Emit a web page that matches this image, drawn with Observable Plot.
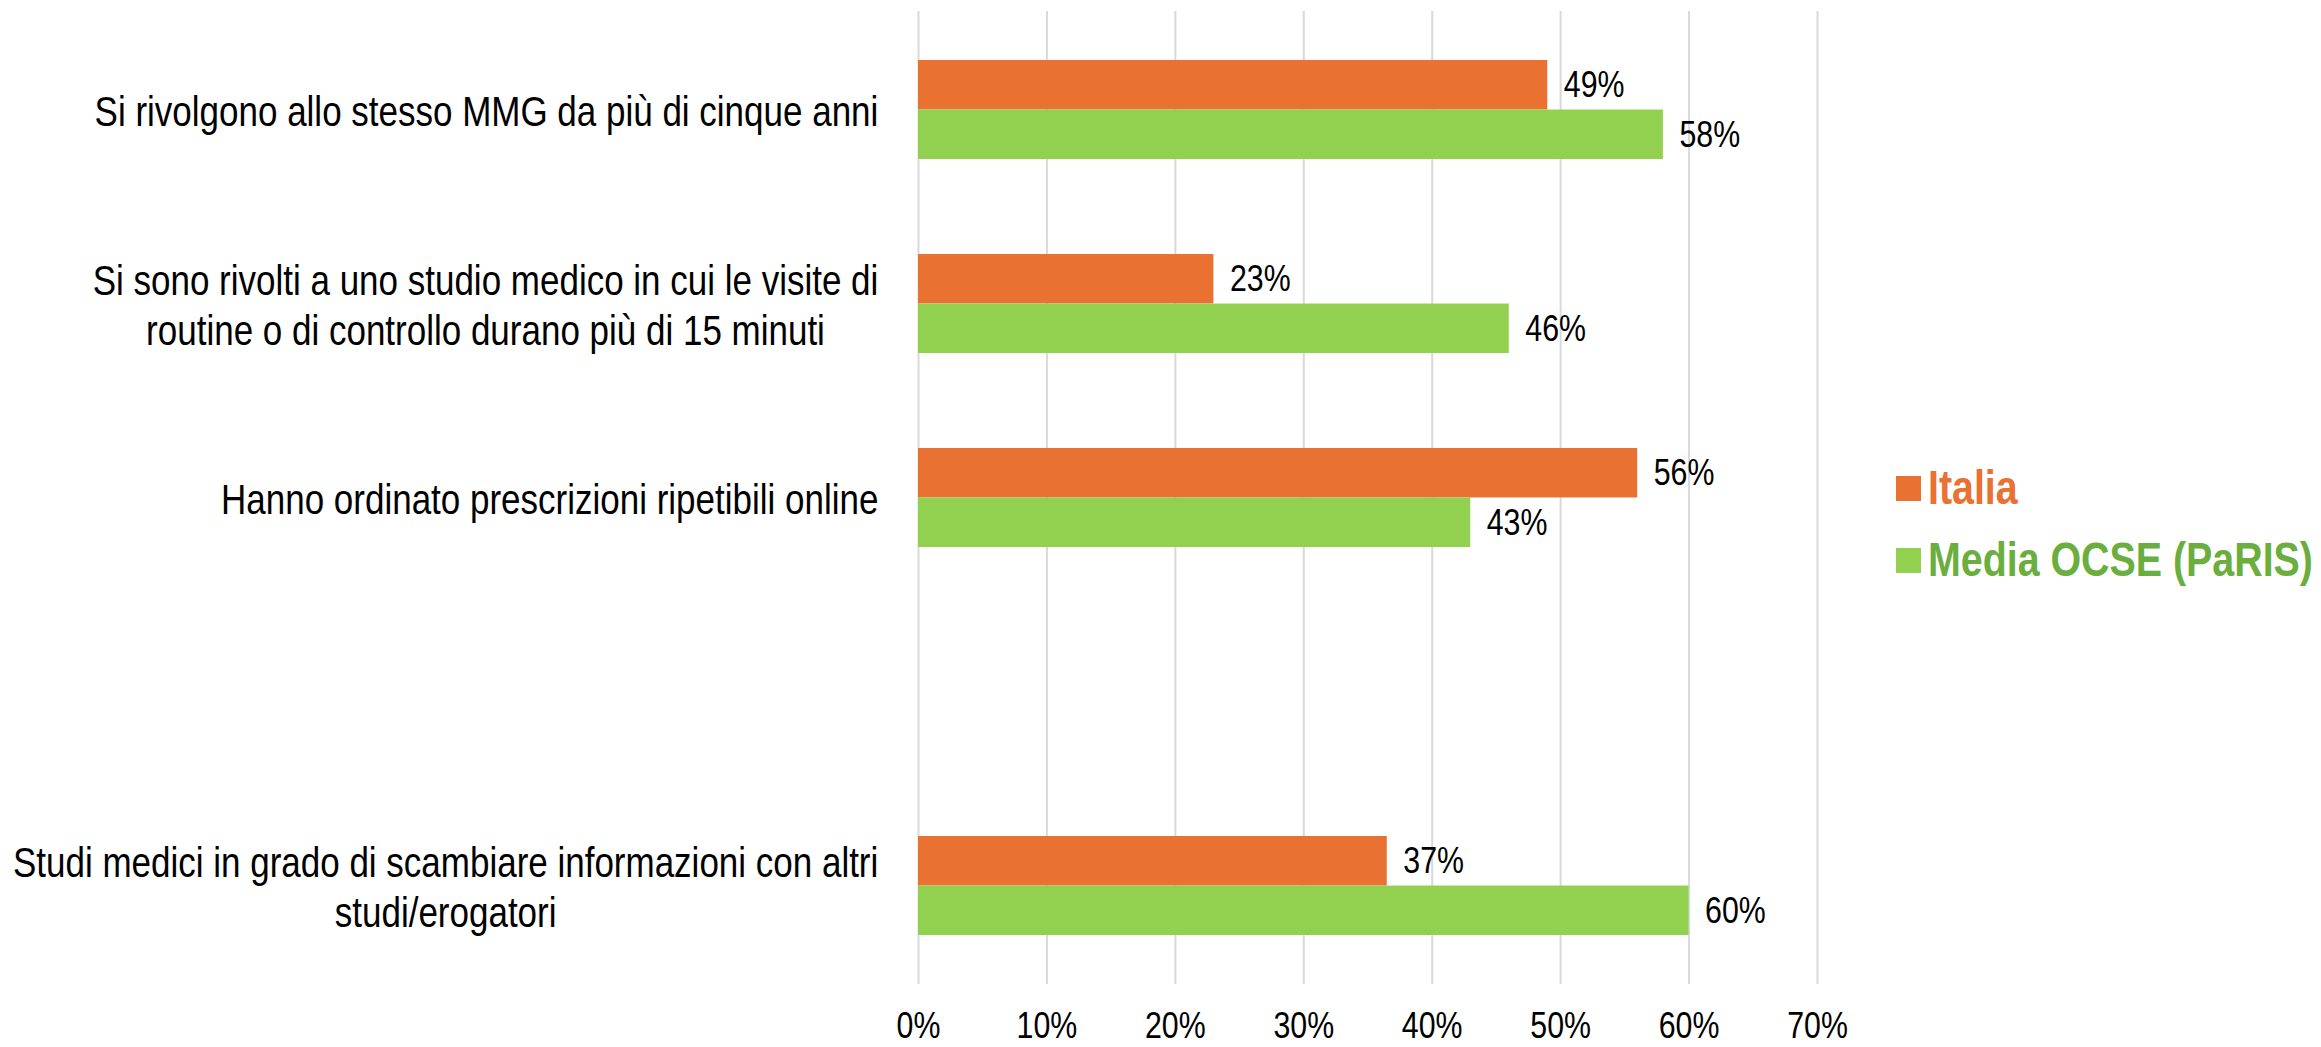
<!DOCTYPE html>
<html>
<head>
<meta charset="utf-8">
<script src="https://cdn.jsdelivr.net/npm/d3@7"></script>
<script src="https://cdn.jsdelivr.net/npm/@observablehq/plot@0.6"></script>
<style>
  body { margin: 0; background: #fff; }
  #wrap { position: relative; width: 2321px; height: 1047px; }
  #legend { position: absolute; left: 1896px; top: 452px; font-family: 'Liberation Sans', Arial, sans-serif; font-weight: bold; font-size: 48px; line-height: 1; }
  .item { display: flex; align-items: center; height: 72px; white-space: nowrap; }
  .sw { width: 25px; height: 25px; margin-right: 7px; flex: none; }
  .lt { display: inline-block; transform: scaleX(0.82); transform-origin: left center; }
</style>
</head>
<body>
<div id="wrap"><div id="chart"></div><div id="legend"></div></div>
<script>
// ---- data ----
const categories = [
  "Si rivolgono allo stesso MMG da più di cinque anni",
  "Si sono rivolti a uno studio medico in cui le visite di\nroutine o di controllo durano più di 15 minuti",
  "Hanno ordinato prescrizioni ripetibili online",
  "Studi medici in grado di scambiare informazioni con altri\nstudi/erogatori"
];
const slots = [categories[0], categories[1], categories[2], "", categories[3]];
const italia = [0.49, 0.23, 0.56, 0.365];
const ocse = [0.58, 0.46, 0.43, 0.60];
const seriesNames = ["Italia", "Media OCSE (PaRIS)"];
const seriesColors = ["#E97132", "#92D050"];
const legendTextColors = ["#E97132", "#6AAE3E"];
const xTicks = [0, 0.1, 0.2, 0.3, 0.4, 0.5, 0.6, 0.7];

// ---- layout ----
const W = 2321, H = 1047;
const mTop = 11, mBottom = 63, mLeft = 918, mRight = 504;
const pInner = 0.491, pOuter = 0.2455;
const FONT = "'Liberation Sans', Arial, sans-serif";
const SX = 0.82; // narrow (condensed) look
const catFont = 43, catSX = 0.814, valFont = 37;

const band = d3.scaleBand().domain(slots).range([mTop, H - mBottom]).paddingInner(pInner).paddingOuter(pOuter);
const half = band.bandwidth() / 2;

const rowsIt = categories.map((c, i) => ({cat: c, series: seriesNames[0], value: italia[i]}));
const rowsOc = categories.map((c, i) => ({cat: c, series: seriesNames[1], value: ocse[i]}));

// measure label widths
const ctx = document.createElement("canvas").getContext("2d");
ctx.font = `${catFont}px ${FONT}`;
const labelMarks = categories.map(c => {
  const maxW = d3.max(c.split("\n"), l => ctx.measureText(l).width) * catSX;
  return Plot.text([c], {
    y: d => d, text: d => d, frameAnchor: "left", textAnchor: "middle",
    dx: -(40 + maxW / 2), fontSize: catFont, lineHeight: 1.16, fill: "black", fontFamily: FONT,
    className: "catlabel"
  });
});

const pct = v => Math.round(v * 100) + "%";

const chart = Plot.plot({
  width: W, height: H,
  marginTop: mTop, marginBottom: mBottom, marginLeft: mLeft, marginRight: mRight,
  style: {fontFamily: FONT, background: "white", overflow: "visible"},
  x: {domain: [0, 0.7], axis: null},
  y: {domain: slots, paddingInner: pInner, paddingOuter: pOuter, axis: null},
  marks: [
    Plot.gridX(xTicks, {stroke: "#D9D9D9", strokeOpacity: 1, strokeWidth: 2}),
    Plot.barX(rowsIt, {x: "value", y: "cat", fill: seriesColors[0], insetBottom: half}),
    Plot.barX(rowsOc, {x: "value", y: "cat", fill: seriesColors[1], insetTop: half}),
    Plot.text(rowsIt, {x: "value", y: "cat", text: d => pct(d.value), textAnchor: "start", dx: 16, dy: -half / 2, fontSize: valFont, fill: "black"}),
    Plot.text(rowsOc, {x: "value", y: "cat", text: d => pct(d.value), textAnchor: "start", dx: 16, dy: half / 2, fontSize: valFont, fill: "black"}),
    Plot.axisX({ticks: xTicks, tickFormat: d3.format(".0%"), tickSize: 0, tickPadding: 27, fontSize: valFont, label: null, fill: "black"}),
    ...labelMarks
  ]
});
// condense every text horizontally about its own anchor point
d3.select(chart).selectAll("text").each(function () {
  const inCat = this.closest("g.catlabel") !== null;
  const s = inCat ? catSX : SX;
  const t = this.getAttribute("transform") || "";
  const x = +this.getAttribute("x") || 0, y = +this.getAttribute("y") || 0;
  this.setAttribute("transform", `${t} translate(${x},${y}) scale(${s},1) translate(${-x},${-y})`);
});
document.getElementById("chart").appendChild(chart);

// legend
const lg = d3.select("#legend");
seriesNames.forEach((n, i) => {
  const it = lg.append("div").attr("class", "item");
  it.append("div").attr("class", "sw").style("background", seriesColors[i]);
  it.append("span").attr("class", "lt").style("color", legendTextColors[i]).text(n);
});
</script>
</body>
</html>
